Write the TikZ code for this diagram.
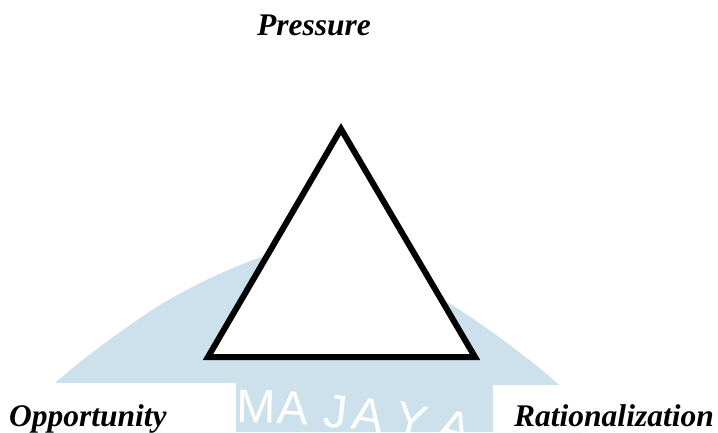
\documentclass[tikz,border=0pt]{standalone}
\usepackage{fontspec}
\setmainfont{Liberation Serif}
\newfontfamily\markfont{Liberation Sans}
\usetikzlibrary{positioning}
\definecolor{markblue}{RGB}{205,225,237}
\tikzset{
  lab/.style={font=\fontsize{31.5}{36}\selectfont\bfseries\itshape, inner sep=0pt, anchor=base west},
  tri/.style={draw, line width=6pt, line join=miter, miter limit=10, fill=white},
  wlet/.style={font=\fontsize{47}{50}\selectfont\markfont, text=white, inner sep=0pt, anchor=base}
}

\begin{document}
\begin{tikzpicture}[x=1pt, y=-1pt]
	\useasboundingbox (0,0) rectangle (718,432);
	% watermark dome
	\fill[markblue] plot[smooth] coordinates {(30,405) (55,383) (80,362) (120,332) (160,305) (200,283) (240,265) (275,253) (306,249) (337,253) (372,265) (412,283) (452,305) (492,332) (532,362) (557,383) (582,405)} -- (582,432) -- (30,432) -- cycle;
	\foreach \c/\x/\y/\r [count=\i] in {M/256/423/-1, A/292/424/-3, J/334/428/-6, A/366/431/-9, Y/408/436/-13, A/450/443/-17} {
		\node[wlet, rotate=\r] (w\i) at (\x,\y) {\c};
	}
	% white boxes under the corner labels
	\fill[white] (0,383) rectangle (236,432);
	\fill[white] (493,385) rectangle (718,432);
	% triangle
	\coordinate (top) at (341,129);
	\coordinate (bl) at (208,357);
	\coordinate (br) at (475,357);
	\draw[tri] (top) -- (bl) -- (br) -- cycle;
	% labels
	\node[lab] (pres) at (257,35) {Pressure};
	\node[lab] (opp) at (9,426) {Opportunity};
	\node[lab] (rat) at (514,426) {Rationalization};
\end{tikzpicture}
\end{document}
